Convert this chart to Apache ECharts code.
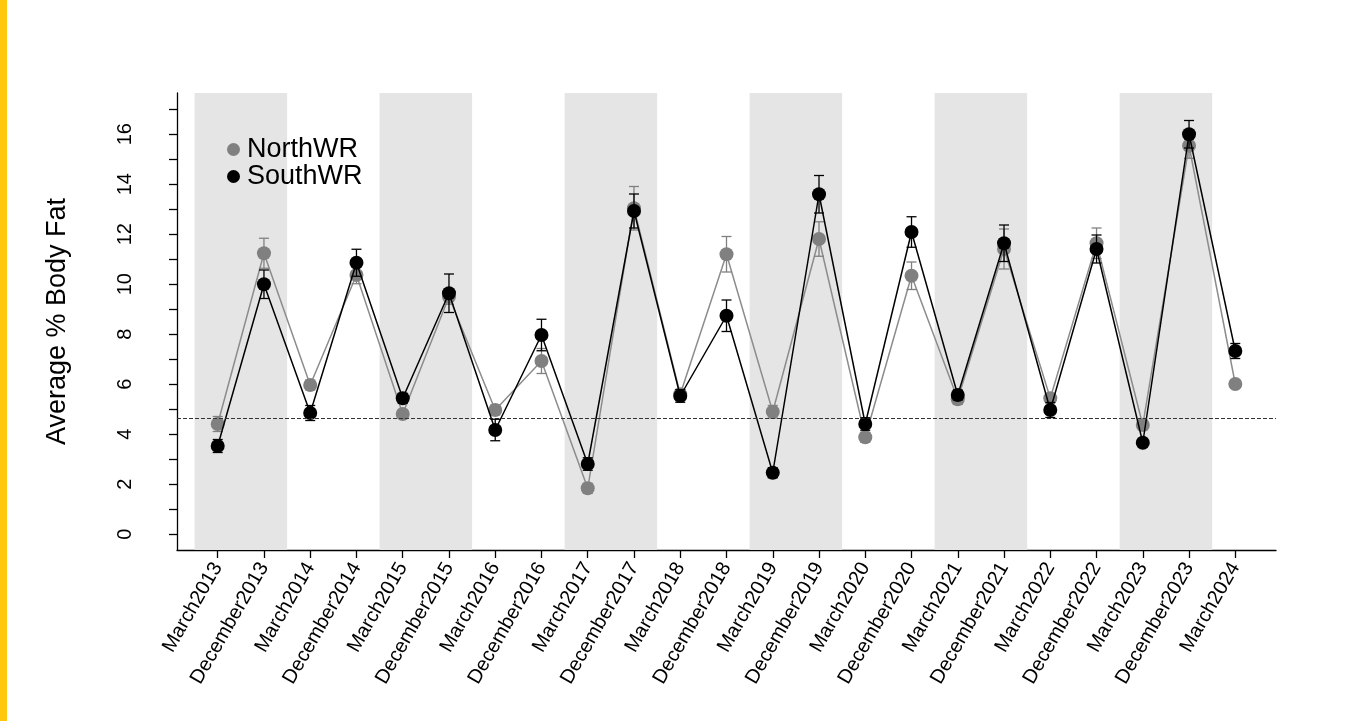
<!DOCTYPE html>
<html>
<head>
<meta charset="utf-8">
<script src="https://cdn.jsdelivr.net/npm/echarts@6/dist/echarts.min.js"></script>
<style>
html,body{margin:0;padding:0;background:#fff;}
#chart{width:1361px;height:721px;}
</style>
</head>
<body>
<div id="chart"></div>
<script>
const categories = ["March2013","December2013","March2014","December2014","March2015","December2015","March2016","December2016","March2017","December2017","March2018","December2018","March2019","December2019","March2020","December2020","March2021","December2021","March2022","December2022","March2023","December2023","March2024"];
const northValues = [4.41,11.24,5.97,10.37,4.81,9.5,4.97,6.93,1.84,13.04,5.6,11.2,4.9,11.81,3.88,10.34,5.4,11.41,5.44,11.64,4.37,15.54,6.01];
const northErrors = [0.3,0.6,0.2,0.35,0.15,0.3,0.2,0.5,0.2,0.87,0.2,0.71,0.25,0.69,0.2,0.55,0.2,0.8,0.15,0.61,0.2,0.5,0.1];
const southValues = [3.53,10.0,4.85,10.86,5.44,9.64,4.17,7.97,2.81,12.93,5.53,8.74,2.46,13.6,4.41,12.09,5.57,11.64,4.97,11.41,3.66,16.0,7.33];
const southErrors = [0.26,0.57,0.3,0.54,0.2,0.77,0.43,0.63,0.25,0.68,0.25,0.63,0.2,0.75,0.25,0.61,0.2,0.73,0.3,0.56,0.15,0.55,0.3];
const shadedPairs = [[0,1],[4,5],[8,9],[12,13],[16,17],[20,21]];
const referenceLine = 4.65;
const yTickLabels = [0,2,4,6,8,10,12,14,16];
const yTicks = [0,1,2,3,4,5,6,7,8,9,10,11,12,13,14,15,16,17];

const FONT = '"Liberation Sans", Arial, sans-serif';
const idx = categories.map((c,i)=>i);

function pts(vals){ return vals.map((v,i)=>[i,v]); }
function errData(vals, errs){ return vals.map((v,i)=>[i,v,errs[i]]); }
function errSeries(name, vals, errs, color){
  return {
    type:'custom', name: name + '_err', silent:true, z:3,
    data: errData(vals, errs),
    renderItem: function(params, api){
      const x = api.value(0), v = api.value(1), e = api.value(2);
      const top = api.coord([x, v+e]);
      const bot = api.coord([x, v-e]);
      const hw = 5;
      const st = {stroke: color, lineWidth: 1.3, fill: null};
      return {type:'group', children:[
        {type:'line', shape:{x1:top[0],y1:top[1],x2:bot[0],y2:bot[1]}, style:st},
        {type:'line', shape:{x1:top[0]-hw,y1:top[1],x2:top[0]+hw,y2:top[1]}, style:st},
        {type:'line', shape:{x1:bot[0]-hw,y1:bot[1],x2:bot[0]+hw,y2:bot[1]}, style:st}
      ]};
    }
  };
}

const chart = echarts.init(document.getElementById('chart'), null, {renderer:'canvas'});
chart.setOption({
  animation:false,
  backgroundColor:'#ffffff',
  graphic:[{type:'rect', left:0, top:0, shape:{width:7, height:721}, style:{fill:'#FFC80A'}, z:100}],
  grid:{left:177, right:85, top:93, bottom:171},
  legend:{
    data:['NorthWR','SouthWR'], orient:'vertical', left:222, top:131,
    icon:'circle', itemWidth:13, itemHeight:13, itemGap:0,
    textStyle:{fontFamily:FONT, fontSize:27, color:'#000', lineHeight:26, padding:[0,0,0,2]},
    selectedMode:false
  },
  xAxis:{
    type:'value', min:-0.88, max:22.88,
    splitLine:{show:false},
    axisLine:{show:true, onZero:false, lineStyle:{color:'#000', width:1.3}},
    axisTick:{show:true, customValues: idx, length:8, lineStyle:{color:'#000', width:1.3}},
    axisLabel:{customValues: idx, rotate:60, margin:14, fontFamily:FONT, fontSize:20, color:'#000',
      formatter: function(v){ return categories[Math.round(v)]; }}
  },
  yAxis:{
    type:'value', min:-0.63, max:17.65,
    name:'Average % Body Fat', nameLocation:'middle', nameRotate:90, nameGap:106,
    nameTextStyle:{fontFamily:FONT, fontSize:27, color:'#000'},
    splitLine:{show:false},
    axisLine:{show:true, onZero:false, lineStyle:{color:'#000', width:1.3}},
    axisTick:{show:true, customValues: yTicks, length:8, lineStyle:{color:'#000', width:1.3}},
    axisLabel:{customValues: yTickLabels, rotate:90, margin:42, fontFamily:FONT, fontSize:20, color:'#000'}
  },
  series:[
    {
      type:'line', name:'bands', data:[], z:0, silent:true,
      markArea:{silent:true, itemStyle:{color:'#e5e5e5'},
        data: shadedPairs.map(p=>[{xAxis:p[0]-0.5},{xAxis:p[1]+0.5}])}
    },
    {
      type:'line', name:'ref', data:[], z:1, silent:true,
      markLine:{silent:true, symbol:['none','none'], label:{show:false},
        lineStyle:{color:'#333', type:[4,2], width:1},
        data:[{yAxis: referenceLine}]}
    },
    {
      type:'line', name:'NorthWR', data: pts(northValues), z:2,
      symbol:'circle', symbolSize:14, showSymbol:true,
      lineStyle:{color:'#8c8c8c', width:1.5},
      itemStyle:{color:'#808080'}
    },
    errSeries('NorthWR', northValues, northErrors, '#808080'),
    {
      type:'line', name:'SouthWR', data: pts(southValues), z:4,
      symbol:'circle', symbolSize:14, showSymbol:true,
      lineStyle:{color:'#000', width:1.5},
      itemStyle:{color:'#000'}
    },
    Object.assign(errSeries('SouthWR', southValues, southErrors, '#000'), {z:5})
  ]
});
</script>
</body>
</html>
